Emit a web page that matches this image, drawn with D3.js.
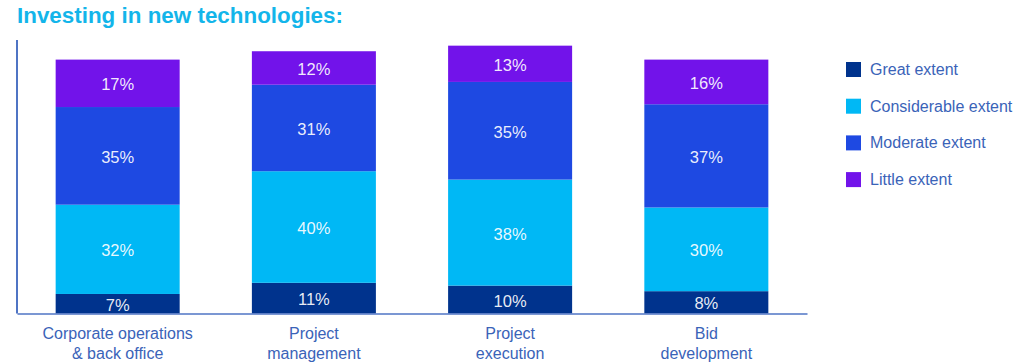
<!DOCTYPE html>
<html lang="en">
<head>
<meta charset="UTF-8">
<title>Investing in new technologies</title>
<script src="https://d3js.org/d3.v7.min.js"></script>
<style>
  body { margin: 0; background: #fff; font-family: "Liberation Sans", Arial, sans-serif; }
  .title { font-weight: bold; fill: #13b5ea; }
  .pct { fill: #fff; font-size: 16.5px; fill-opacity: 0.92; }
  .cat { fill: #3a63b8; font-size: 16px; }
  .leg { fill: #3a63b8; font-size: 16px; }
</style>
</head>
<body>
<div id="chart"></div>
<script>
// categories (two text lines each)
const categories = ["Corporate operations|& back office", "Project|management", "Project|execution", "Bid|development"];
const seriesNames = ["Great extent", "Considerable extent", "Moderate extent", "Little extent"];
const seriesColors = ["#00338d", "#00b8f5", "#1e49e2", "#7213ea"];
// values per series, same order as categories
const great = [7, 11, 10, 8];
const considerable = [32, 40, 38, 30];
const moderate = [35, 31, 35, 37];
const little = [17, 12, 13, 16];

const width = 1024, height = 364;
const seriesValues = [great, considerable, moderate, little];

const rows = categories.map((c, i) => {
  const r = { cat: c };
  seriesNames.forEach((s, j) => r[s] = seriesValues[j][i]);
  return r;
});

const svg = d3.select("#chart").append("svg")
  .attr("width", width).attr("height", height);

svg.append("text").attr("class", "title")
  .attr("x", 17).attr("y", 23)
  .attr("font-size", 22)
  .attr("textLength", 326).attr("lengthAdjust", "spacingAndGlyphs")
  .text("Investing in new technologies:");

const x = d3.scaleBand().domain(categories).range([17, 807])
  .paddingInner(0.368).paddingOuter(0.197);
const y = d3.scaleLinear().domain([0, 100]).range([313.5, 34.5]);

const stack = d3.stack().keys(seriesNames);
const layers = stack(rows);

const g = svg.selectAll("g.layer").data(layers).enter().append("g")
  .attr("fill", (d, i) => seriesColors[i]);

g.selectAll("rect").data(d => d).enter().append("rect")
  .attr("x", d => x(d.data.cat))
  .attr("width", x.bandwidth())
  .attr("y", d => y(d[1]))
  .attr("height", d => y(d[0]) - y(d[1]));

g.selectAll("text").data(d => d).enter().append("text")
  .attr("class", "pct")
  .attr("text-anchor", "middle")
  .attr("dominant-baseline", "central")
  .attr("x", d => x(d.data.cat) + x.bandwidth() / 2)
  .attr("y", d => (y(d[0]) + y(d[1])) / 2 + 1)
  .text(d => (d[1] - d[0]) + "%");

// axes
svg.append("line")
  .attr("x1", 17).attr("x2", 17)
  .attr("y1", y(0)).attr("y2", y(98))
  .attr("stroke", "#4f74c4").attr("stroke-width", 2);

const xAxis = svg.append("g")
  .attr("transform", `translate(0,${y(0)})`)
  .call(d3.axisBottom(x).tickSize(0).tickFormat(""));
xAxis.select(".domain").attr("stroke", "#4f74c4").attr("stroke-width", 1.5);

const catText = svg.selectAll("text.cat").data(categories).enter().append("text")
  .attr("class", "cat")
  .attr("text-anchor", "middle")
  .attr("x", d => x(d) + x.bandwidth() / 2)
  .attr("y", 339);
catText.selectAll("tspan").data(d => d.split("|")).enter().append("tspan")
  .attr("x", function () { return d3.select(this.parentNode).attr("x"); })
  .attr("dy", (d, i) => i ? 20 : 0)
  .text(d => d);

// legend
const leg = svg.selectAll("g.legend").data(seriesNames).enter().append("g")
  .attr("transform", (d, i) => `translate(846,${62 + i * 36.7})`);
leg.append("rect").attr("width", 15).attr("height", 15)
  .attr("fill", (d, i) => seriesColors[i]);
leg.append("text").attr("class", "leg")
  .attr("x", 24).attr("y", 7.5)
  .attr("dominant-baseline", "central")
  .text(d => d);
</script>
</body>
</html>
